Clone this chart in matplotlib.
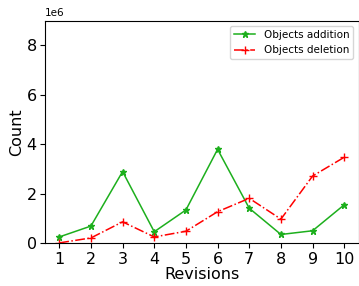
import numpy as np
import matplotlib
matplotlib.use("Agg")
import matplotlib.pyplot as plt

revisions = [1, 2, 3, 4, 5, 6, 7, 8, 9, 10]
addition = [0.26e6, 0.70e6, 2.90e6, 0.47e6, 1.35e6, 3.80e6, 1.42e6, 0.36e6, 0.51e6, 1.56e6]
deletion = [0.02e6, 0.22e6, 0.87e6, 0.26e6, 0.49e6, 1.28e6, 1.82e6, 0.98e6, 2.72e6, 3.48e6]

fig = plt.figure(figsize=(3.59, 2.86), dpi=100)
ax = fig.add_axes([45 / 359, 0.149, (358.5 - 45) / 359, 0.928 - 0.149])

ax.plot(revisions, addition, color='#1daf1d', marker='*', markersize=5,
        linewidth=1.1, label='Objects addition')
ax.plot(revisions, deletion, color='red', marker='+', markersize=5.5,
        linewidth=1.1, linestyle='-.', label='Objects deletion')

ax.set_ylim(0, 9e6)
ax.set_xticks(revisions)
ax.set_yticks([0, 2e6, 4e6, 6e6, 8e6])
ax.tick_params(labelsize=11.5, pad=2.5)
ax.yaxis.get_offset_text().set_fontsize(7.5)
ax.set_xlabel("Revisions", fontsize=11.5, labelpad=0)
ax.set_ylabel("Count", fontsize=11.5, labelpad=2)
ax.legend(loc='upper right', fontsize=7.5)

fig.savefig("out.png", dpi=100)
